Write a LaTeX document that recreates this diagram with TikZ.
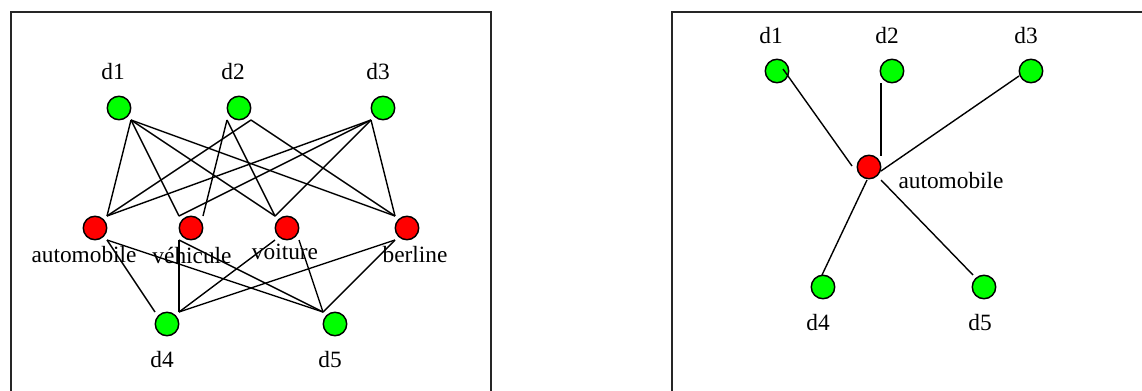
\documentclass[tikz,border=0pt]{standalone}
\usepackage{fontspec}
\setmainfont{Liberation Serif}
\begin{document}
\begin{tikzpicture}[x=0.75pt,y=-0.75pt,
  dot/.style={circle,draw=black,line width=1.1pt,minimum size=17.6pt,inner sep=0pt},
  doc/.style={dot,fill=green},
  term/.style={dot,fill=red},
  lbl/.style={inner sep=0pt,font=\fontsize{17.5pt}{20pt}\selectfont},
  edge/.style={line width=1.05pt,black},
  frame/.style={line width=1.4pt,black!85}]
\useasboundingbox (0,0) rectangle (1142,390);
\clip (0,0) rectangle (1142,390);
% frames
\coordinate (fl1) at (11,400); \coordinate (fl2) at (11,12);
\coordinate (fl3) at (491,12); \coordinate (fl4) at (491,400);
\draw[frame] (fl1) -- (fl2) -- (fl3) -- (fl4);
\coordinate (fr1) at (672,400); \coordinate (fr2) at (672,12);
\coordinate (fr3) at (1150,12);
\draw[frame] (fr1) -- (fr2) -- (fr3);
% left graph
\node[doc] (d1) at (119,108) {};
\node[doc] (d2) at (239,108) {};
\node[doc] (d3) at (383,108) {};
\node[term] (au) at (95,228) {};
\node[term] (ve) at (191,228) {};
\node[term] (vo) at (287,228) {};
\node[term] (be) at (407,228) {};
\node[doc] (d4) at (167,324) {};
\node[doc] (d5) at (335,324) {};
\node[lbl] (ld1) at (113,72) {d1};
\node[lbl] (ld2) at (233,72) {d2};
\node[lbl] (ld3) at (378,72) {d3};
\node[lbl] (lau) at (84,255) {automobile};
\node[lbl] (lve) at (192,255) {véhicule};
\node[lbl] (lvo) at (285,252) {voiture};
\node[lbl] (lbe) at (415,255) {berline};
\node[lbl] (ld4) at (162,360) {d4};
\node[lbl] (ld5) at (330,360) {d5};
% d1 edges
\foreach \t in {ve,vo,be}
  \draw[edge] ([shift={(12,12)}]d1.center) -- ([shift={(-12,-12)}]\t.center);
\draw[edge] ([shift={(12,12)}]d1.center) -- ([shift={(12,-12)}]au.center);
% d2 edges
\draw[edge] ([shift={(-12,12)}]d2.center) -- ([shift={(12,-12)}]ve.center);
\draw[edge] ([shift={(-12,12)}]d2.center) -- ([shift={(-12,-12)}]vo.center);
\draw[edge] ([shift={(12,12)}]d2.center) -- ([shift={(12,-12)}]au.center);
\draw[edge] ([shift={(12,12)}]d2.center) -- ([shift={(-12,-12)}]be.center);
% d3 edges
\draw[edge] ([shift={(-12,12)}]d3.center) -- ([shift={(12,-12)}]au.center);
\foreach \t in {ve,vo,be}
  \draw[edge] ([shift={(-12,12)}]d3.center) -- ([shift={(-12,-12)}]\t.center);
% d4 edges
\draw[edge] ([shift={(-12,-12)}]d4.center) -- ([shift={(12,12)}]au.center);
\foreach \t in {ve,vo,be}
  \draw[edge] ([shift={(12,-12)}]d4.center) -- ([shift={(-12,12)}]\t.center);
% d5 edges
\draw[edge] ([shift={(-12,-12)}]d5.center) -- ([shift={(12,12)}]au.center);
\draw[edge] ([shift={(-12,-12)}]d5.center) -- ([shift={(-12,12)}]ve.center);
\draw[edge] ([shift={(-12,-12)}]d5.center) -- ([shift={(12,12)}]vo.center);
\draw[edge] ([shift={(-12,-12)}]d5.center) -- ([shift={(-12,12)}]be.center);
% right graph
\node[doc] (r1) at (777,71) {};
\node[doc] (r2) at (892,71) {};
\node[doc] (r3) at (1031,71) {};
\node[term] (ra) at (869,167) {};
\node[doc] (r4) at (823,287) {};
\node[doc] (r5) at (984,287) {};
\node[lbl] (lr1) at (771,36) {d1};
\node[lbl] (lr2) at (887,36) {d2};
\node[lbl] (lr3) at (1026,36) {d3};
\node[lbl] (lra) at (951,181) {automobile};
\node[lbl] (lr4) at (818,323) {d4};
\node[lbl] (lr5) at (980,323) {d5};
\draw[edge] ([shift={(6,-2)}]r1.center) -- ([shift={(-17,-1)}]ra.center);
\draw[edge] ([shift={(-11,12)}]r2.center) -- ([shift={(12,-11)}]ra.center);
\draw[edge] ([shift={(-12,5)}]r3.center) -- ([shift={(12,4)}]ra.center);
\draw[edge] ([shift={(-1,-12)}]r4.center) -- ([shift={(-2,13)}]ra.center);
\draw[edge] ([shift={(-11,-12)}]r5.center) -- ([shift={(12,13)}]ra.center);
\end{tikzpicture}
\end{document}
